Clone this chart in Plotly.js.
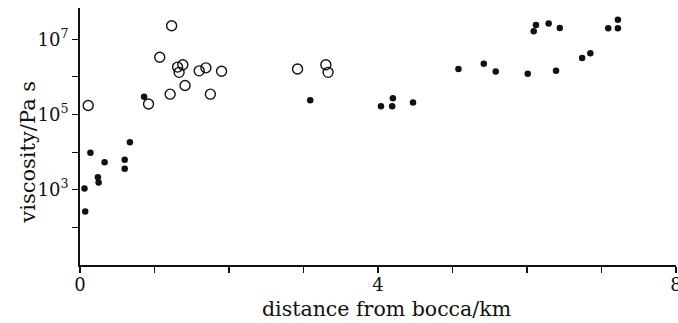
<!DOCTYPE html>
<html><head><meta charset="utf-8">
<script src="https://cdn.plot.ly/plotly-3.0.1.min.js"></script>
<style>html,body{margin:0;padding:0;background:#fff}#chart{width:678px;height:323px}</style>
</head><body><div id="chart"></div>
<script>
// filled points: distance (km), log10 viscosity
var filledX = [0.06,0.07,0.14,0.24,0.25,0.33,0.60,0.60,0.67,0.86,3.09,4.04,4.19,4.20,4.47,5.08,5.42,5.58,6.01,6.39,6.74,6.85,6.09,6.12,6.29,6.44,7.09,7.22,7.22];
var filledLogV = [3.03,2.42,3.98,3.33,3.19,3.73,3.56,3.80,4.26,5.47,5.38,5.22,5.22,5.43,5.32,6.21,6.35,6.14,6.08,6.16,6.50,6.63,7.21,7.38,7.42,7.30,7.29,7.29,7.52];
// open points
var openX = [0.11,0.92,1.07,1.23,1.21,1.31,1.33,1.38,1.41,1.60,1.69,1.75,1.90,2.92,3.30,3.33];
var openLogV = [5.24,5.28,6.52,7.36,5.54,6.26,6.12,6.32,5.77,6.16,6.24,5.54,6.15,6.21,6.32,6.12];

var xTickVals = [0,1,2,3,4,5,6,7,8];
var xTickText = ['0','','','','4','','','','8'];
var yTickVals = [100,1000,10000,100000,1000000,10000000];
var yTickText = ['','10<sup>3</sup>','','10<sup>5</sup>','','10<sup>7</sup>'];
var xTitle = 'distance from bocca/km';
var yTitle = 'viscosity/Pa s';

function pow10(a){return a.map(function(v){return Math.pow(10,v);});}

var traces = [
  {x: filledX, y: pow10(filledLogV), mode:'markers', type:'scatter',
   marker:{symbol:'circle', size:6.5, color:'#111'}},
  {x: openX, y: pow10(openLogV), mode:'markers', type:'scatter',
   marker:{symbol:'circle-open', size:10, color:'#111', line:{width:1.4, color:'#111'}}}
];
var fam = 'DejaVu Serif, serif';
var layout = {
  width:678, height:323, showlegend:false,
  paper_bgcolor:'#fff', plot_bgcolor:'#fff',
  margin:{l:80, r:2, t:8, b:57.5},
  font:{family:fam, color:'#111'},
  xaxis:{range:[0,8], tickvals:xTickVals, ticktext:xTickText, ticks:'outside', ticklen:6, tickwidth:1.2,
    tickcolor:'#111', showline:true, linecolor:'#111', linewidth:2, showgrid:false, zeroline:false,
    ticklabeloverflow:'allow', ticklabelstandoff:-4,
    tickfont:{family:fam, size:18, color:'#111'}},
  yaxis:{type:'log', range:[1,7.83], tickvals:yTickVals, ticktext:yTickText, ticks:'outside', ticklen:6, tickwidth:1.2,
    tickcolor:'#111', showline:true, linecolor:'#111', linewidth:2, showgrid:false, zeroline:false,
    tickfont:{family:fam, size:18, color:'#111'}},
  annotations:[
    {text:xTitle, xref:'paper', yref:'paper', x:0.514, y:-0.17, xanchor:'center', yanchor:'middle',
     showarrow:false, font:{family:fam, size:20.5, color:'#111'}},
    {text:yTitle, xref:'paper', yref:'paper', x:0, xshift:-52, y:0.437, xanchor:'center', yanchor:'middle',
     textangle:-90, showarrow:false, font:{family:fam, size:21, color:'#111'}}
  ]
};
Plotly.newPlot('chart', traces, layout, {staticPlot:true, displayModeBar:false});
</script></body></html>
